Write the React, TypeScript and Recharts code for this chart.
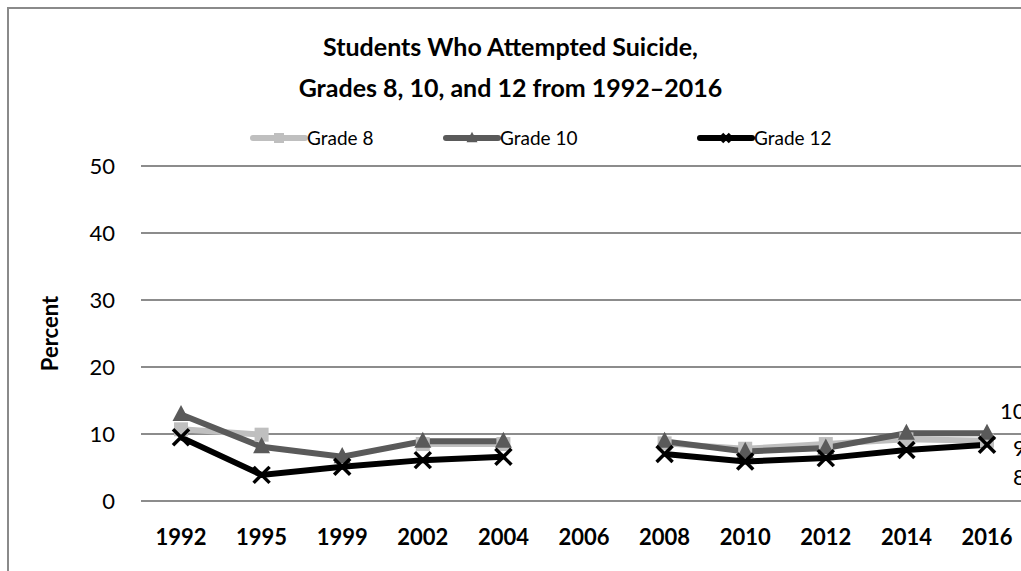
import React from "react";
import { LineChart, Line, XAxis, YAxis, CartesianGrid, LabelList } from "recharts";

// Survey years (2006 has no data, the lines break there)
const years = ["1992", "1995", "1999", "2002", "2004", "2006", "2008", "2010", "2012", "2014", "2016"];

// Percent of students who attempted suicide
const grade8 = [10.7, 9.9, null, 8.5, 8.5, null, 8.6, 7.8, 8.5, 9.2, 9.0];
const grade10 = [12.9, 8.1, 6.6, 8.9, 8.9, null, 8.9, 7.4, 7.9, 10.1, 10.1];
const grade12 = [9.5, 3.9, 5.1, 6.1, 6.6, null, 7.0, 5.9, 6.4, 7.6, 8.4];

const yTicks = [0, 10, 20, 30, 40, 50];

const FONT = "Lato, 'Open Sans', sans-serif";
const GRID = "#8c8c8c";
const C8 = "#bfbfbf";
const C10 = "#5a5a5a";
const C12 = "#000000";

const data = years.map((year, i) => ({
  year,
  grade8: grade8[i],
  grade10: grade10[i],
  grade12: grade12[i],
}));

function SquareDot({ cx, cy, size = 14 }: any) {
  if (cx == null || cy == null) return <g />;
  return <rect x={cx - size / 2} y={cy - size / 2} width={size} height={size} fill={C8} />;
}

function TriangleDot({ cx, cy, size = 17 }: any) {
  if (cx == null || cy == null) return <g />;
  const h = size * 0.95;
  return (
    <polygon
      points={`${cx},${cy - h * 0.6} ${cx + size / 2},${cy + h * 0.4} ${cx - size / 2},${cy + h * 0.4}`}
      fill={C10}
    />
  );
}

function CrossDot({ cx, cy, size = 16 }: any) {
  if (cx == null || cy == null) return <g />;
  const r = size / 2;
  return (
    <g stroke={C12} strokeWidth={3.5}>
      <line x1={cx - r} y1={cy - r} x2={cx + r} y2={cy + r} />
      <line x1={cx - r} y1={cy + r} x2={cx + r} y2={cy - r} />
    </g>
  );
}

// value label at the last point only, nudged like the original
const endLabel = (dx: number, dy: number) => (props: any) => {
  const { x, y, value, index } = props;
  if (index !== years.length - 1 || value == null) return null;
  return (
    <text x={x + dx} y={y + dy} dy="0.35em" fontSize={22} fontFamily={FONT} fill="#000">
      {Math.round(value)}
    </text>
  );
};

function LegendItem({ x, color, label, marker }: any) {
  return (
    <g>
      <line x1={x} y1={138} x2={x + 52} y2={138} stroke={color} strokeWidth={6} strokeLinecap="round" />
      {marker === "square" && <SquareDot cx={x + 26} cy={138} size={10} />}
      {marker === "triangle" && <TriangleDot cx={x + 26} cy={138} size={11} />}
      {marker === "cross" && <CrossDot cx={x + 26} cy={138} size={8} />}
      <text x={x + 54} y={138} dy="0.35em" fontSize={19} fontFamily={FONT} fill="#000">
        {label}
      </text>
    </g>
  );
}

export default function App() {
  return (
    <div
      style={{
        position: "absolute",
        left: 0,
        top: 0,
        width: 1021,
        height: 571,
        overflow: "hidden",
        background: "#fff",
        fontFamily: FONT,
      }}
    >
      {/* chart frame, cropped on the right and bottom */}
      <div
        style={{
          position: "absolute",
          left: 7,
          top: 7,
          width: 1100,
          height: 700,
          borderLeft: "2px solid #8a8a8a",
          borderTop: "2px solid #8a8a8a",
        }}
      />
      <div
        style={{
          position: "absolute",
          left: 0,
          width: 1021,
          top: 26,
          textAlign: "center",
          fontWeight: 700,
          fontSize: 25,
          lineHeight: "41px",
          color: "#000",
        }}
      >
        Students Who Attempted Suicide,
        <br />
        Grades 8, 10, and 12 from 1992–2016
      </div>
      <svg style={{ position: "absolute", left: 0, top: 0 }} width={1021} height={160}>
        <LegendItem x={253} color={C8} label="Grade 8" marker="square" />
        <LegendItem x={446} color={C10} label="Grade 10" marker="triangle" />
        <LegendItem x={700} color={C12} label="Grade 12" marker="cross" />
      </svg>
      <div style={{ position: "absolute", left: 0, top: 0 }}>
        <LineChart
          width={1040}
          height={571}
          data={data}
          margin={{ top: 166, right: 13, bottom: 0, left: 0 }}
        >
          <CartesianGrid vertical={false} stroke={GRID} strokeWidth={2} />
          <XAxis
            dataKey="year"
            height={70}
            padding={{ left: 40, right: 40 }}
            axisLine={{ stroke: GRID, strokeWidth: 2 }}
            tickLine={false}
            tickSize={0}
            tickMargin={28}
            interval={0}
            tick={{ fontSize: 22, fontWeight: 700, fill: "#000", fontFamily: FONT }}
          />
          <YAxis
            width={141}
            domain={[0, 50]}
            ticks={yTicks}
            axisLine={false}
            tickLine={false}
            tickSize={0}
            tickMargin={26}
            tick={{ fontSize: 22, fill: "#000", fontFamily: FONT }}
            label={({ viewBox }: any) => {
              const cx = 50;
              const cy = viewBox.y + viewBox.height / 2;
              return (
                <text
                  x={cx}
                  y={cy}
                  transform={`rotate(-90, ${cx}, ${cy})`}
                  textAnchor="middle"
                  dy="0.35em"
                  fontSize={22}
                  fontWeight={700}
                  fontFamily={FONT}
                  fill="#000"
                >
                  Percent
                </text>
              );
            }}
          />
          <Line
            dataKey="grade8"
            stroke={C8}
            strokeWidth={6}
            isAnimationActive={false}
            connectNulls={false}
            dot={(p: any) => <SquareDot key={`g8-${p.index}`} cx={p.cx} cy={p.cy} />}
          >
            <LabelList dataKey="grade8" content={endLabel(26, 8)} />
          </Line>
          <Line
            dataKey="grade10"
            stroke={C10}
            strokeWidth={6}
            isAnimationActive={false}
            connectNulls={false}
            dot={(p: any) => <TriangleDot key={`g10-${p.index}`} cx={p.cx} cy={p.cy} />}
          >
            <LabelList dataKey="grade10" content={endLabel(13, -22)} />
          </Line>
          <Line
            dataKey="grade12"
            stroke={C12}
            strokeWidth={6}
            isAnimationActive={false}
            connectNulls={false}
            dot={(p: any) => <CrossDot key={`g12-${p.index}`} cx={p.cx} cy={p.cy} />}
          >
            <LabelList dataKey="grade12" content={endLabel(26, 33)} />
          </Line>
        </LineChart>
      </div>
    </div>
  );
}
